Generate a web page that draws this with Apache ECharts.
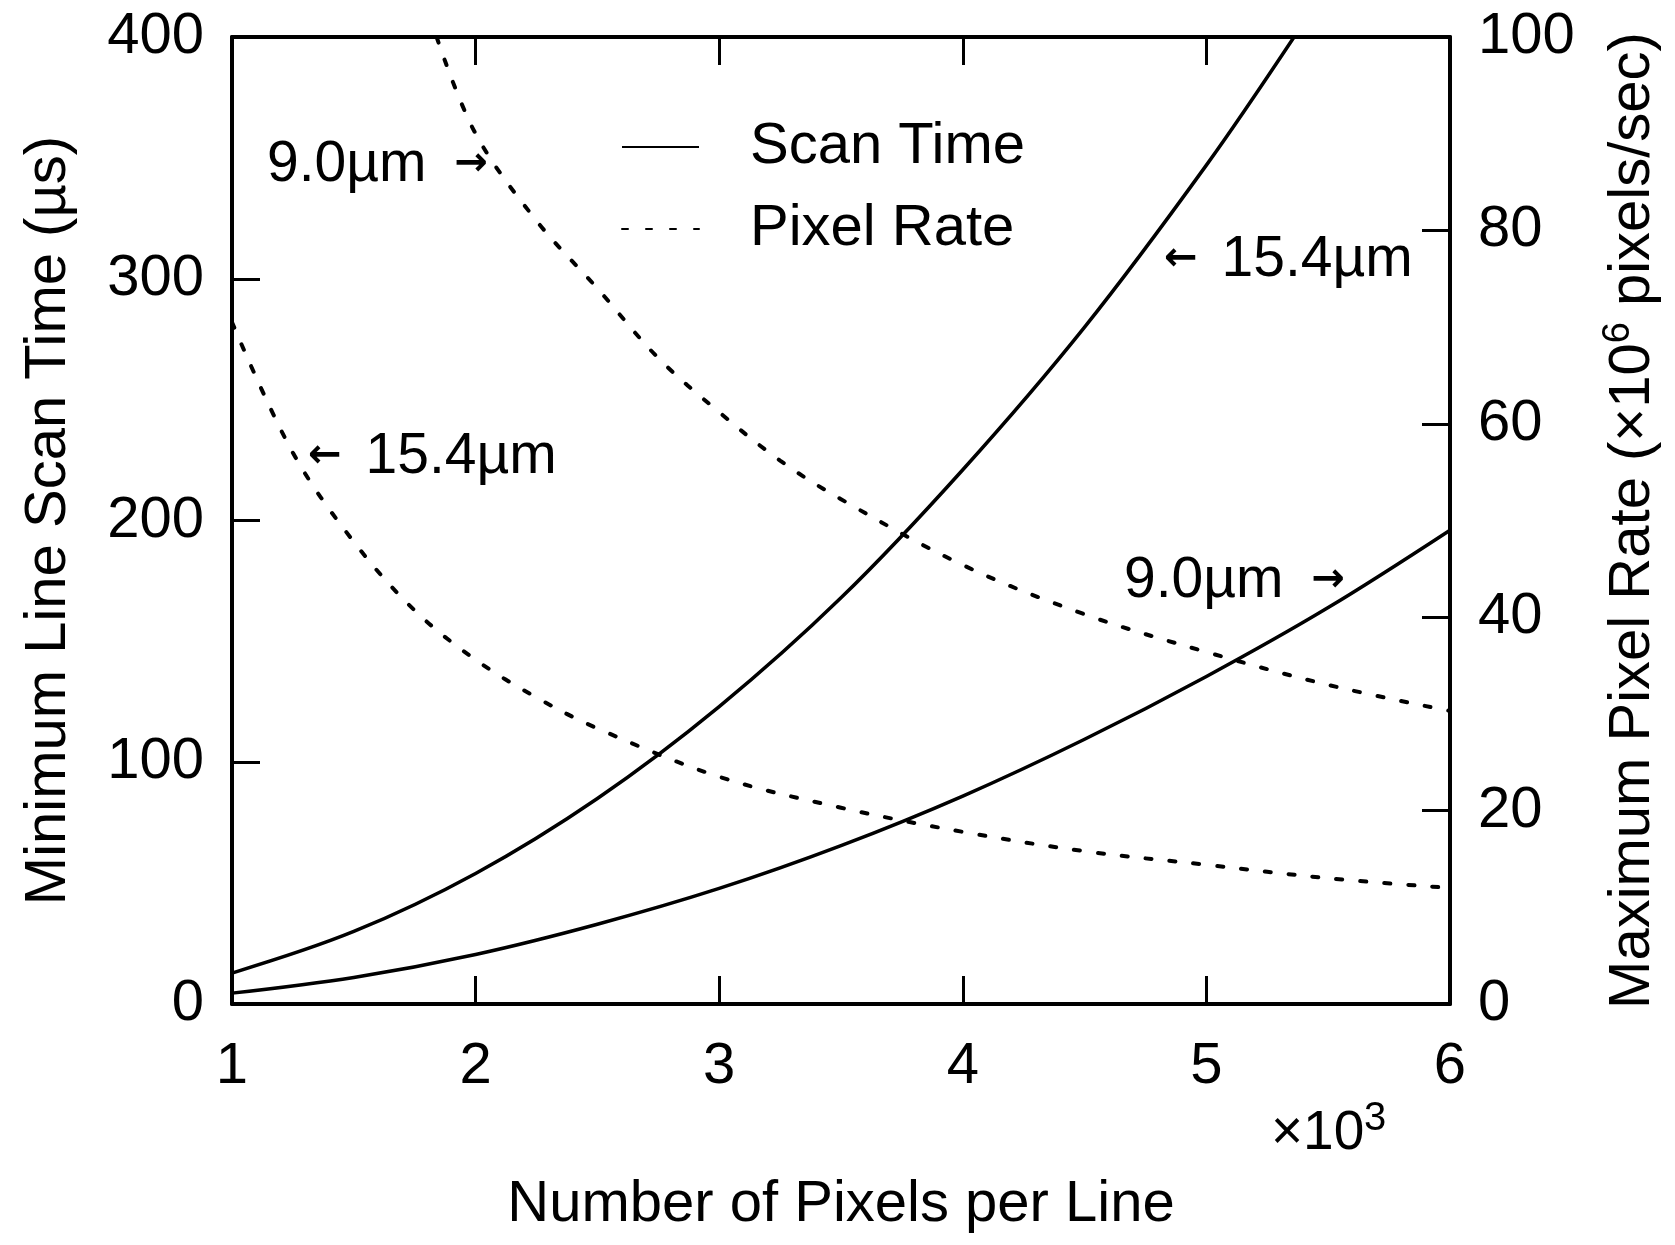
<!DOCTYPE html>
<html>
<head>
<meta charset="utf-8">
<script src="https://cdn.jsdelivr.net/npm/echarts@6/dist/echarts.min.js"></script>
<style>
  html, body { margin: 0; padding: 0; background: #ffffff; }
  #chart { width: 1675px; height: 1245px; }
</style>
</head>
<body>
<div id="chart"></div>
<script>
// ---- Data (x in thousands of pixels per line) ----
const xTicks = [1, 2, 3, 4, 5, 6];
const leftTicks = [0, 100, 200, 300, 400];
const rightTicks = [0, 20, 40, 60, 80, 100];

// Scan time (µs), left axis
const scanX154 = [1, 1.5, 2, 2.5, 3, 3.5, 4, 4.5, 5, 5.36];
const scanTime154 = [12.8, 30, 54, 85, 123, 168, 221, 280, 347, 400];
const scanX90 = [1, 1.5, 2, 2.5, 3, 3.5, 4, 4.5, 5, 5.5, 6];
const scanTime90 = [4.5, 11, 20.5, 33, 47.8, 65.5, 86, 109.5, 135.5, 164, 196];

// Pixel rate (x10^6 pixels/sec), right axis
const rateX154 = [1, 1.25, 1.5, 1.75, 2, 2.25, 2.5, 3, 3.5, 4, 4.5, 5, 5.5, 6];
const pixelRate154 = [70.5, 57, 47.8, 40.7, 35.6, 31.7, 28.5, 23.5, 20.3, 17.8, 15.8, 14.4, 13.0, 12.0];
const rateX90 = [1.84, 2, 2.25, 2.5, 2.75, 3, 3.25, 3.5, 4, 4.5, 5, 5.5, 6];
const pixelRate90 = [100, 90, 81, 74, 66.8, 61.2, 56.2, 52.2, 45.4, 40.3, 36.4, 33.0, 30.3];

const FONT = "'Liberation Sans', Arial, Helvetica, sans-serif";
const pair = (xs, ys) => xs.map((x, i) => [x, ys[i]]);

const chart = echarts.init(document.getElementById('chart'), null, { renderer: 'canvas' });

const solid = { color: '#000', width: 3.5, type: 'solid' };
const dashed = { color: '#000', width: 4, type: [6, 18], cap: 'round' };

const axisCommon = {
  axisLine: { show: true, onZero: false, lineStyle: { color: '#000', width: 4 } },
  axisTick: { show: true, inside: true, length: 28, lineStyle: { color: '#000', width: 3 } },
  splitLine: { show: false },
  axisLabel: { color: '#000', fontSize: 58, fontFamily: FONT }
};

const arrowRich = {
  t: { fontSize: 57, fontFamily: FONT, color: '#000', verticalAlign: 'middle' },
  r: { fontSize: 40, fontWeight: 'bold', fontFamily: "'DejaVu Sans', sans-serif", color: '#000', verticalAlign: 'middle' }
};

const option = {
  backgroundColor: '#ffffff',
  animation: false,
  grid: { left: 232, right: 225, top: 37, bottom: 241, containLabel: false },
  legend: {
    orient: 'vertical',
    left: 616,
    top: 107,
    itemWidth: 77,
    itemHeight: 14,
    itemGap: 12,
    selectedMode: false,
    itemStyle: { opacity: 0 },
    data: ['Scan Time', 'Pixel Rate'],
    textStyle: { color: '#000', fontSize: 58, fontFamily: FONT, lineHeight: 70, padding: [0, 0, 0, 46] }
  },
  xAxis: [
    Object.assign({}, axisCommon, {
      type: 'value', position: 'bottom', min: xTicks[0], max: xTicks[xTicks.length - 1], interval: 1,
      axisLabel: Object.assign({}, axisCommon.axisLabel, { margin: 34 }),
      name: 'Number of Pixels per Line',
      nameLocation: 'middle',
      nameGap: 172,
      nameTextStyle: { color: '#000', fontSize: 58, fontFamily: FONT }
    }),
    Object.assign({}, axisCommon, {
      type: 'value', position: 'top', min: xTicks[0], max: xTicks[xTicks.length - 1], interval: 1,
      axisLabel: { show: false }
    })
  ],
  yAxis: [
    Object.assign({}, axisCommon, {
      type: 'value', position: 'left', min: leftTicks[0], max: leftTicks[leftTicks.length - 1], interval: 100,
      axisLabel: Object.assign({}, axisCommon.axisLabel, { margin: 28 }),
      name: 'Minimum Line Scan Time (µs)',
      nameLocation: 'middle',
      nameRotate: 90,
      nameGap: 150,
      nameTextStyle: { color: '#000', fontSize: 58, fontFamily: FONT, lineHeight: 66 }
    }),
    Object.assign({}, axisCommon, {
      type: 'value', position: 'right', min: rightTicks[0], max: rightTicks[rightTicks.length - 1], interval: 20,
      axisLabel: Object.assign({}, axisCommon.axisLabel, { margin: 28 }),
      name: '{a|Maximum Pixel Rate (×10}{s|6}{a| pixels/sec)}',
      nameLocation: 'middle',
      nameRotate: 90,
      nameGap: 150,
      nameTextStyle: {
        color: '#000', fontSize: 58, fontFamily: FONT, lineHeight: 66,
        rich: {
          a: { fontSize: 58, fontFamily: FONT, color: '#000', lineHeight: 66, verticalAlign: 'middle' },
          s: { fontSize: 38, fontFamily: FONT, color: '#000', lineHeight: 40, verticalAlign: 'top' }
        }
      }
    })
  ],
  series: [
    { name: 'Scan Time', type: 'line', xAxisIndex: 0, yAxisIndex: 0, data: pair(scanX154, scanTime154),
      smooth: 0.35, symbol: 'none', lineStyle: solid, itemStyle: { color: '#000' }, z: 3 },
    { name: 'Scan Time', type: 'line', xAxisIndex: 0, yAxisIndex: 0, data: pair(scanX90, scanTime90),
      smooth: 0.35, symbol: 'none', lineStyle: solid, itemStyle: { color: '#000' }, z: 3 },
    { name: 'Pixel Rate', type: 'line', xAxisIndex: 0, yAxisIndex: 1, data: pair(rateX154, pixelRate154),
      smooth: 0.35, symbol: 'none', lineStyle: dashed, itemStyle: { color: '#000' }, z: 2 },
    { name: 'Pixel Rate', type: 'line', xAxisIndex: 0, yAxisIndex: 1, data: pair(rateX90, pixelRate90),
      smooth: 0.35, symbol: 'none', lineStyle: dashed, itemStyle: { color: '#000' }, z: 2 }
  ],
  graphic: [
    { type: 'text', x: 267, y: 165, style: { text: '{t|9.0µm}{r|→}', rich: {
        t: Object.assign({}, arrowRich.t, { padding: [0, 28, 0, 0] }), r: arrowRich.r }, verticalAlign: 'middle', align: 'left' } },
    { type: 'text', x: 308, y: 457, style: { text: '{r|←}{t|15.4µm}', rich: {
        t: Object.assign({}, arrowRich.t, { padding: [0, 0, 0, 24] }), r: arrowRich.r }, verticalAlign: 'middle', align: 'left' } },
    { type: 'text', x: 1164, y: 260, style: { text: '{r|←}{t|15.4µm}', rich: {
        t: Object.assign({}, arrowRich.t, { padding: [0, 0, 0, 24] }), r: arrowRich.r }, verticalAlign: 'middle', align: 'left' } },
    { type: 'text', x: 1124, y: 581, style: { text: '{t|9.0µm}{r|→}', rich: {
        t: Object.assign({}, arrowRich.t, { padding: [0, 28, 0, 0] }), r: arrowRich.r }, verticalAlign: 'middle', align: 'left' } },
    { type: 'text', x: 1271, y: 1134, style: { text: '×10', fontSize: 55, fontFamily: FONT, fill: '#000', verticalAlign: 'middle', align: 'left' } },
    { type: 'text', x: 1364, y: 1119, style: { text: '3', fontSize: 40, fontFamily: FONT, fill: '#000', verticalAlign: 'middle', align: 'left' } }
  ]
};

chart.setOption(option);
</script>
</body>
</html>
